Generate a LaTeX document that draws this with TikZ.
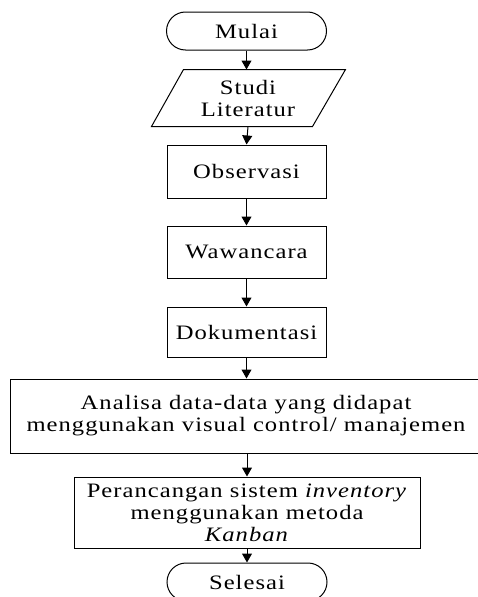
\documentclass[tikz,border=0pt]{standalone}
\usepackage{fontspec}
\setmainfont{Liberation Serif}[FakeStretch=1.2,LetterSpace=5]
\usetikzlibrary{arrows.meta}
\begin{document}
\begin{tikzpicture}[x=1pt,y=-1pt,line width=1pt,
  txt/.style={font=\fontsize{20.5}{22}\selectfont,align=center,inner sep=0pt},
  procbox/.style={txt,draw,rectangle},
  termbox/.style={txt,draw,rectangle,rounded corners=19pt,minimum width=160pt,minimum height=38pt},
  flow/.style={-{Triangle[length=9pt,width=10pt]}}]
\useasboundingbox (0,0) rectangle (478,597);
\node[termbox] (mulai) at (246.5,31) {Mulai};
\node[txt,minimum width=160pt,minimum height=56pt] (studi) at (248,98) {Studi\\Literatur};
\draw ([xshift=16pt]studi.north west) -- ([xshift=17pt]studi.north east)
  -- ([xshift=-16pt]studi.south east) -- ([xshift=-16pt]studi.south west) -- cycle;
\node[procbox,minimum width=159pt,minimum height=53pt] (obs) at (246.5,171.5) {Observasi};
\node[procbox,minimum width=159pt,minimum height=52pt] (waw) at (246.5,252) {Wawancara};
\node[procbox,minimum width=159pt,minimum height=50pt] (dok) at (246.5,332) {Dokumentasi};
\node[procbox,minimum width=472pt,minimum height=74pt] (ana) at (246,416) {Analisa data-data yang didapat\\menggunakan visual control/ manajemen};
\node[procbox,minimum width=346pt,minimum height=71pt] (per) at (247,512.5) {Perancangan sistem \textit{inventory}\\menggunakan metoda\\\textit{Kanban}};
\node[termbox] (sel) at (247,582) {Selesai};
\draw[flow] (mulai.south) -- (mulai.south |- studi.north);
\draw[flow] (studi.south) -- (obs.north);
\draw[flow] (obs.south) -- (waw.north);
\draw[flow] (waw.south) -- (dok.north);
\draw[flow] (dok.south) -- (dok.south |- ana.north);
\draw[flow] (ana.south -| per.north) -- (per.north);
\draw[flow] (per.south) -- (sel.north);
\end{tikzpicture}
\end{document}
